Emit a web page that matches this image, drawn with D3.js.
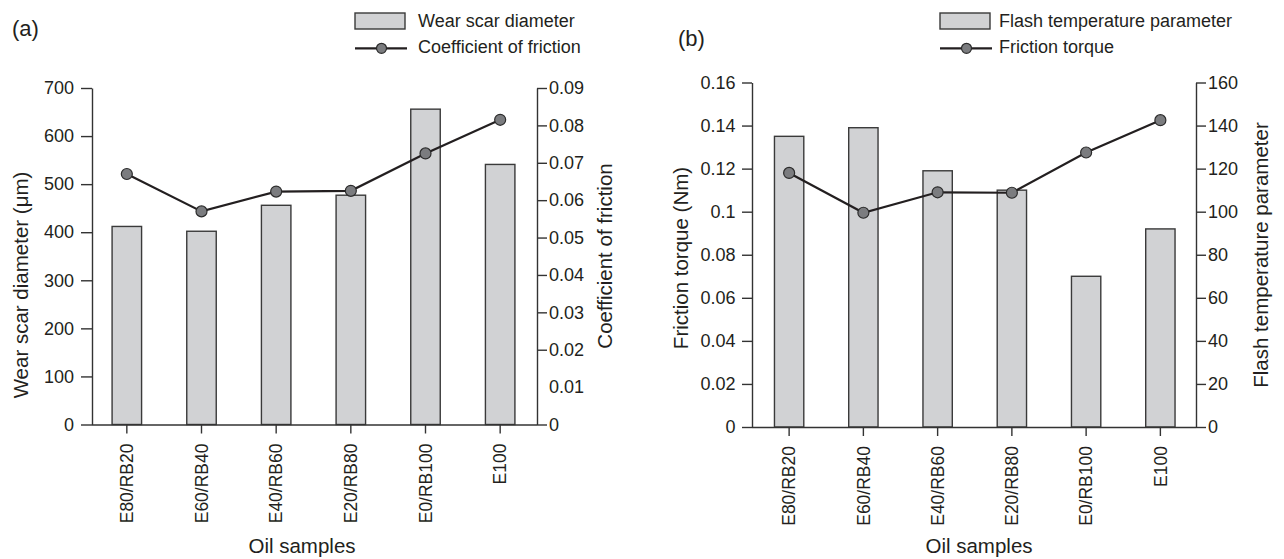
<!DOCTYPE html>
<html>
<head>
<meta charset="utf-8">
<script src="https://cdn.jsdelivr.net/npm/d3@7/dist/d3.min.js"></script>
<style>
  html, body { margin: 0; padding: 0; background: #fff; }
  svg { display: block; font-family: "Liberation Sans", Arial, Helvetica, sans-serif; }
</style>
</head>
<body>
<svg id="chart" width="1284" height="559"></svg>
<script>
// ---------- data ----------
const categories = ["E80/RB20", "E60/RB40", "E40/RB60", "E20/RB80", "E0/RB100", "E100"];

// panel (a)
const wearScar = [412, 402, 456, 477, 656, 541];               // µm (bars)
const frictionCoef = [0.067, 0.057, 0.0623, 0.0625, 0.0725, 0.0815]; // line
const wearTicks = [0, 100, 200, 300, 400, 500, 600, 700];
const coefTicks = [0, 0.01, 0.02, 0.03, 0.04, 0.05, 0.06, 0.07, 0.08, 0.09];

// panel (b)
const flashTemp = [135, 139, 119, 110, 70, 92];                 // bars
const frictionTorque = [0.118, 0.0995, 0.109, 0.1088, 0.1275, 0.1425]; // line
const torqueTicks = [0, 0.02, 0.04, 0.06, 0.08, 0.1, 0.12, 0.14, 0.16];
const flashTicks = [0, 20, 40, 60, 80, 100, 120, 140, 160];

// ---------- styles ----------
const AXIS = "#333333", TEXT = "#231f20";
const BAR_FILL = "#d1d2d4", BAR_STROKE = "#3a3a3a";
const LINE = "#231f20", DOT_FILL = "#7b7c7f", DOT_STROKE = "#2b2b2b";
const TICK_FONT = 18, XTICK_FONT = 17.5, TITLE_FONT = 20.5, LEGEND_FONT = 18;

const svg = d3.select("#chart");
const fmt = d3.format("~g");

const panels = [
  {
    tag: "(a)", tagX: 12, tagY: 35.5,
    bars: wearScar, line: frictionCoef,
    leftTicks: wearTicks, rightTicks: coefTicks,
    leftMax: 700, rightMax: 0.09,
    xRange: [89.5, 537.5], yBottom: 424.5, yTop: 88,
    axL: 92, axR: 537,
    leftTick: 11, leftPad: 7,
    hideRightTick: [0.01],
    leftTitle: "Wear scar diameter (\u03bcm)", leftTitleX: 28, leftTitleY: 285,
    rightTitle: "Coefficient of friction", rightTitleX: 612, rightTitleY: 256,
    xTitleX: 302,
    legendX: 355, legendTextX: 418,
    barLabel: "Wear scar diameter", lineLabel: "Coefficient of friction"
  },
  {
    tag: "(b)", tagX: 678, tagY: 45.5,
    bars: flashTemp, line: frictionTorque,
    leftTicks: torqueTicks, rightTicks: flashTicks,
    leftMax: 0.16, rightMax: 160,
    xRange: [752, 1197.5], yBottom: 427, yTop: 82.5,
    axL: 752, axR: 1196,
    leftTick: 10, leftPad: 6.5,
    hideRightTick: [],
    leftTitle: "Friction torque (Nm)", leftTitleX: 688, leftTitleY: 258,
    rightTitle: "Flash temperature parameter", rightTitleX: 1268, rightTitleY: 255,
    xTitleX: 979,
    legendX: 940, legendTextX: 999,
    barLabel: "Flash temperature parameter", lineLabel: "Friction torque",
    barsOnRight: true
  }
];

panels.forEach(p => {
  const g = svg.append("g");

  const x = d3.scaleBand().domain(categories).range(p.xRange)
    .paddingInner(0.605).paddingOuter(0.3025);
  const yL = d3.scaleLinear().domain([0, p.leftMax]).range([p.yBottom, p.yTop]);
  const yR = d3.scaleLinear().domain([0, p.rightMax]).range([p.yBottom, p.yTop]);

  // bars belong to left axis in (a), right axis in (b); line the other
  const yBar = p.barsOnRight ? yR : yL;
  const yLine = p.barsOnRight ? yL : yR;

  // bars
  g.selectAll("rect.bar").data(p.bars).join("rect")
    .attr("class", "bar")
    .attr("x", (d, i) => x(categories[i]))
    .attr("width", x.bandwidth())
    .attr("y", d => yBar(d))
    .attr("height", d => yBar(0) - yBar(d))
    .attr("fill", BAR_FILL)
    .attr("stroke", BAR_STROKE)
    .attr("stroke-width", 1.4);

  // x axis
  const xAxis = g.append("g")
    .attr("transform", `translate(0,${p.yBottom})`)
    .call(d3.axisBottom(x).tickSize(9).tickSizeOuter(0));
  xAxis.select(".domain").attr("stroke", AXIS).attr("stroke-width", 1.4)
    .attr("d", `M${p.axL},0.5H${p.axR}`);
  xAxis.selectAll(".tick line").attr("stroke", AXIS).attr("stroke-width", 1.4);
  xAxis.selectAll(".tick text")
    .attr("transform", "rotate(-90)")
    .attr("text-anchor", "end")
    .attr("x", -19).attr("y", 0).attr("dy", "0.35em")
    .attr("fill", TEXT)
    .style("font-size", XTICK_FONT + "px");

  // left axis
  const leftAxis = g.append("g")
    .attr("transform", `translate(${p.axL},0)`)
    .call(d3.axisLeft(yL).tickValues(p.leftTicks).tickFormat(fmt)
      .tickSize(p.leftTick).tickPadding(p.leftPad).tickSizeOuter(0));
  leftAxis.select(".domain").attr("stroke", AXIS).attr("stroke-width", 1.4);
  leftAxis.selectAll(".tick line").attr("stroke", AXIS).attr("stroke-width", 1.4);
  leftAxis.selectAll(".tick text").attr("fill", TEXT).style("font-size", TICK_FONT + "px");

  // right axis
  const rightAxis = g.append("g")
    .attr("transform", `translate(${p.axR},0)`)
    .call(d3.axisRight(yR).tickValues(p.rightTicks).tickFormat(fmt)
      .tickSize(10).tickPadding(2).tickSizeOuter(0));
  rightAxis.select(".domain").attr("stroke", AXIS).attr("stroke-width", 1.4);
  rightAxis.selectAll(".tick line").attr("stroke", AXIS).attr("stroke-width", 1.4)
    .filter(d => p.hideRightTick.includes(d)).remove();
  rightAxis.selectAll(".tick text").attr("fill", TEXT).style("font-size", TICK_FONT + "px");

  // line + dots
  const cx = i => x(categories[i]) + x.bandwidth() / 2;
  const lineGen = d3.line().x((d, i) => cx(i)).y(d => yLine(d));
  g.append("path").datum(p.line)
    .attr("d", lineGen)
    .attr("fill", "none")
    .attr("stroke", LINE)
    .attr("stroke-width", 2.2);
  g.selectAll("circle.dot").data(p.line).join("circle")
    .attr("class", "dot")
    .attr("cx", (d, i) => cx(i))
    .attr("cy", d => yLine(d))
    .attr("r", 5.5)
    .attr("fill", DOT_FILL)
    .attr("stroke", DOT_STROKE)
    .attr("stroke-width", 1.2);

  // axis titles
  g.append("text")
    .attr("transform", `translate(${p.leftTitleX},${p.leftTitleY}) rotate(-90)`)
    .attr("text-anchor", "middle").attr("fill", TEXT)
    .style("font-size", TITLE_FONT + "px")
    .text(p.leftTitle);
  g.append("text")
    .attr("transform", `translate(${p.rightTitleX},${p.rightTitleY}) rotate(-90)`)
    .attr("text-anchor", "middle").attr("fill", TEXT)
    .style("font-size", TITLE_FONT + "px")
    .text(p.rightTitle);
  g.append("text")
    .attr("x", p.xTitleX).attr("y", 553)
    .attr("text-anchor", "middle").attr("fill", TEXT)
    .style("font-size", TITLE_FONT + "px")
    .text("Oil samples");

  // panel tag
  g.append("text")
    .attr("x", p.tagX).attr("y", p.tagY)
    .attr("fill", TEXT)
    .style("font-size", "22px")
    .text(p.tag);

  // legend
  const lg = g.append("g");
  lg.append("rect")
    .attr("x", p.legendX).attr("y", 13)
    .attr("width", 50).attr("height", 16)
    .attr("fill", BAR_FILL).attr("stroke", BAR_STROKE).attr("stroke-width", 1.4);
  lg.append("text")
    .attr("x", p.legendTextX).attr("y", 27.3)
    .attr("fill", TEXT).style("font-size", LEGEND_FONT + "px")
    .text(p.barLabel);
  lg.append("line")
    .attr("x1", p.legendX).attr("x2", p.legendX + 52)
    .attr("y1", 48.3).attr("y2", 48.3)
    .attr("stroke", LINE).attr("stroke-width", 2.2);
  lg.append("circle")
    .attr("cx", p.legendX + 26.5).attr("cy", 48.3).attr("r", 5)
    .attr("fill", DOT_FILL).attr("stroke", DOT_STROKE).attr("stroke-width", 1.2);
  lg.append("text")
    .attr("x", p.legendTextX).attr("y", 53.3)
    .attr("fill", TEXT).style("font-size", LEGEND_FONT + "px")
    .text(p.lineLabel);
});
</script>
</body>
</html>
